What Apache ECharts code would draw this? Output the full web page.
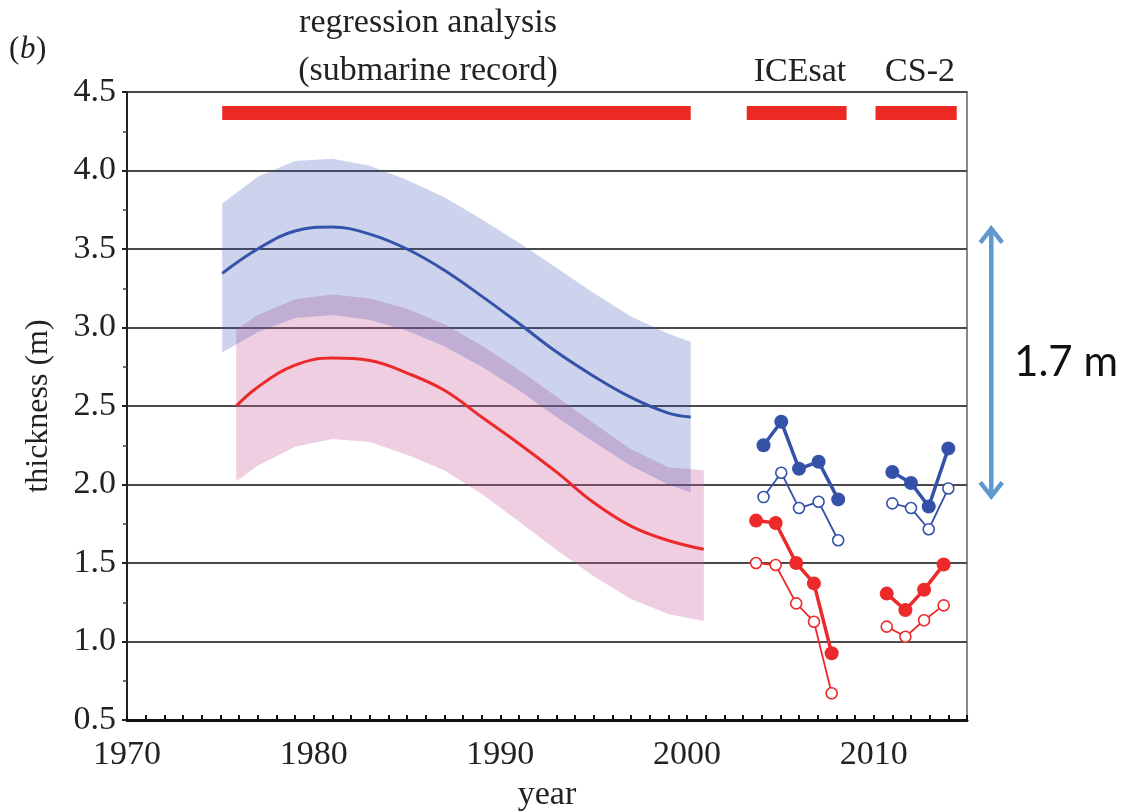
<!DOCTYPE html>
<html>
<head>
<meta charset="utf-8">
<script src="https://cdn.jsdelivr.net/npm/echarts@6/dist/echarts.min.js"></script>
<style>html,body{margin:0;padding:0;background:#fff;}#c{width:1134px;height:812px;}</style>
</head>
<body>
<div id="c"></div>
<script>
// ---- data ----
const xTicksMin = 1970, xTicksMax = 2015;
const yTicksMin = 0.5, yTicksMax = 4.5;

const blueYears  = [1975.1, 1977, 1979, 1981, 1983, 1985, 1987, 1989, 1991, 1993, 1995, 1997, 1999, 2000.2];
const blueMean   = [3.345, 3.50, 3.615, 3.64, 3.595, 3.50, 3.365, 3.20, 3.025, 2.845, 2.69, 2.555, 2.455, 2.43];
const blueUpper  = [3.79, 3.96, 4.06, 4.075, 4.03, 3.94, 3.83, 3.69, 3.54, 3.38, 3.22, 3.07, 2.96, 2.91];
const blueLower  = [2.84, 2.97, 3.06, 3.08, 3.05, 2.98, 2.88, 2.75, 2.60, 2.43, 2.27, 2.12, 2.00, 1.95];

const redYears   = [1975.85, 1977, 1979, 1981, 1983, 1985, 1987, 1989, 1991, 1993, 1995, 1997, 1999, 2000.9];
const redMean    = [2.50, 2.62, 2.76, 2.805, 2.79, 2.71, 2.60, 2.43, 2.26, 2.08, 1.885, 1.735, 1.643, 1.587];
const redUpper   = [2.985, 3.08, 3.18, 3.21, 3.185, 3.12, 3.02, 2.885, 2.73, 2.56, 2.39, 2.225, 2.11, 2.09];
const redLower   = [2.02, 2.12, 2.24, 2.29, 2.27, 2.19, 2.09, 1.94, 1.765, 1.585, 1.415, 1.27, 1.175, 1.13];

const icesatBlueYears = [2004.1, 2005.05, 2006.0, 2007.05, 2008.1];
const icesatBlueFill  = [2.25, 2.40, 2.10, 2.145, 1.905];
const icesatBlueOpen  = [1.92, 2.075, 1.85, 1.89, 1.645];
const icesatRedYears  = [2003.7, 2004.75, 2005.85, 2006.8, 2007.75];
const icesatRedFill   = [1.77, 1.755, 1.50, 1.37, 0.925];
const icesatRedOpen   = [1.50, 1.487, 1.243, 1.126, 0.67];

const cs2BlueYears = [2011.0, 2012.0, 2012.95, 2014.0];
const cs2BlueFill  = [2.08, 2.01, 1.86, 2.23];
const cs2BlueOpen  = [1.88, 1.85, 1.715, 1.975];
const cs2RedYears  = [2010.7, 2011.7, 2012.7, 2013.75];
const cs2RedFill   = [1.305, 1.20, 1.33, 1.49];
const cs2RedOpen   = [1.095, 1.03, 1.135, 1.23];

const periodBars = [
  {name: 'regression analysis', from: 1975.1, to: 2000.2},
  {name: 'ICEsat', from: 2003.2, to: 2008.55},
  {name: 'CS-2', from: 2010.1, to: 2014.45}
];
const periodBarLevel = 4.37;

const arrowYear = 2016.3, arrowTop = 3.63, arrowBottom = 1.925;
const arrowLabel = '1.7 m';

// ---- chart ----
const SERIF = '"Liberation Serif","Times New Roman",serif';
const BLUE = '#3452a8', RED = '#ec2a2c';
const zip = (xs, ys) => xs.map((x, i) => [x, ys[i]]);
const band = (xs, lo, up) => xs.map((x, i) => [x, lo[i], up[i]]);

function bandSeries(data, fill, z) {
  return {
    type: 'custom', z: z, data: data,
    encode: {x: 0, y: [1, 2]},
    renderItem: function (params, api) {
      if (params.dataIndex !== 0) return;
      const up = data.map(d => api.coord([d[0], d[2]]));
      const lo = data.map(d => api.coord([d[0], d[1]])).reverse();
      return {type: 'polygon', shape: {points: up.concat(lo)}, style: {fill: fill}, silent: true};
    }
  };
}
function ptSeries(xs, ys, color, filled) {
  return {
    type: 'line', data: zip(xs, ys), z: filled ? 6 : 5,
    symbol: 'circle', symbolSize: filled ? 14 : 11,
    lineStyle: {color: color, width: filled ? 3.5 : 1.8},
    itemStyle: filled ? {color: color} : {color: '#fff', borderColor: color, borderWidth: 1.6}
  };
}

const chart = echarts.init(document.getElementById('c'), null, {renderer: 'canvas'});
const option = {
  animation: false,
  backgroundColor: '#fff',
  grid: {left: 127, right: 167, top: 92, bottom: 92, show: true, borderColor: '#888', borderWidth: 2,
         backgroundColor: 'transparent', outerBoundsMode: 'none', containLabel: false},
  xAxis: {
    type: 'value', min: xTicksMin, max: xTicksMax, interval: 1,
    name: 'year', nameLocation: 'middle', nameGap: 58,
    nameTextStyle: {fontFamily: SERIF, fontSize: 34, color: '#222'},
    axisLine: {show: true, onZero: false, lineStyle: {color: '#111', width: 3}},
    axisTick: {show: true, inside: true, length: 5, lineStyle: {color: '#111', width: 2}},
    axisLabel: {fontFamily: SERIF, fontSize: 34, color: '#222', margin: 18,
      formatter: v => (Math.round(v) % 10 === 0 ? String(Math.round(v)) : '')},
    splitLine: {show: false}
  },
  yAxis: {
    type: 'value', min: yTicksMin, max: yTicksMax, interval: 0.5,
    name: 'thickness (m)', nameLocation: 'middle', nameGap: 72,
    nameTextStyle: {fontFamily: SERIF, fontSize: 32, color: '#222'},
    axisLine: {show: true, lineStyle: {color: '#222', width: 2}},
    axisTick: {show: true, inside: false, length: 5, lineStyle: {color: '#222', width: 2}},
    minorTick: {show: true, splitNumber: 2, length: 4, lineStyle: {color: '#444', width: 1.5}},
    axisLabel: {fontFamily: SERIF, fontSize: 34, color: '#222', margin: 11, formatter: v => v.toFixed(1)},
    splitLine: {show: true, lineStyle: {color: '#4a4a4a', width: 2}}
  },
  series: [
    bandSeries(band(redYears, redLower, redUpper), 'rgba(200,92,152,0.30)', 1),
    bandSeries(band(blueYears, blueLower, blueUpper), 'rgba(55,79,179,0.25)', 2),
    {type: 'line', data: zip(redYears, redMean), smooth: 0.4, symbol: 'none', z: 3,
     lineStyle: {color: RED, width: 3}},
    {type: 'line', data: zip(blueYears, blueMean), smooth: 0.4, symbol: 'none', z: 3,
     lineStyle: {color: BLUE, width: 3}},
    {type: 'lines', coordinateSystem: 'cartesian2d', z: 4,
     data: periodBars.map(b => ({coords: [[b.from, periodBarLevel], [b.to, periodBarLevel]]})),
     lineStyle: {color: '#ec2a24', width: 14, opacity: 1, cap: 'butt'}},
    ptSeries(icesatBlueYears, icesatBlueOpen, BLUE, false),
    ptSeries(icesatBlueYears, icesatBlueFill, BLUE, true),
    ptSeries(icesatRedYears, icesatRedOpen, RED, false),
    ptSeries(icesatRedYears, icesatRedFill, RED, true),
    ptSeries(cs2BlueYears, cs2BlueOpen, BLUE, false),
    ptSeries(cs2BlueYears, cs2BlueFill, BLUE, true),
    ptSeries(cs2RedYears, cs2RedOpen, RED, false),
    ptSeries(cs2RedYears, cs2RedFill, RED, true)
  ]
};
chart.setOption(option);

// annotations
const pTop = chart.convertToPixel({gridIndex: 0}, [arrowYear, arrowTop]);
const pBot = chart.convertToPixel({gridIndex: 0}, [arrowYear, arrowBottom]);
const AC = '#5f97cf';
const hw = 11, hl = 14;
chart.setOption({
  graphic: [
    {type: 'text', x: 428, y: 23, style: {text: 'regression analysis', font: '34px ' + SERIF, fill: '#222', textAlign: 'center', textVerticalAlign: 'middle'}},
    {type: 'text', x: 428, y: 71, style: {text: '(submarine record)', font: '34px ' + SERIF, fill: '#222', textAlign: 'center', textVerticalAlign: 'middle'}},
    {type: 'text', x: 800, y: 72, style: {text: 'ICEsat', font: '34px ' + SERIF, fill: '#222', textAlign: 'center', textVerticalAlign: 'middle'}},
    {type: 'text', x: 920, y: 72, style: {text: 'CS-2', font: '34px ' + SERIF, fill: '#222', textAlign: 'center', textVerticalAlign: 'middle'}},
    {type: 'text', x: 9, y: 50, style: {text: '(', font: '31px ' + SERIF, fill: '#222', textVerticalAlign: 'middle'}},
    {type: 'text', x: 20, y: 50, style: {text: 'b', font: 'italic 31px ' + SERIF, fill: '#222', textVerticalAlign: 'middle'}},
    {type: 'text', x: 36, y: 50, style: {text: ')', font: '31px ' + SERIF, fill: '#222', textVerticalAlign: 'middle'}},
    {type: 'line', shape: {x1: pTop[0], y1: pTop[1] + 1, x2: pBot[0], y2: pBot[1] - 1}, style: {stroke: AC, lineWidth: 4.5}},
    {type: 'polyline', shape: {points: [[pTop[0] - hw, pTop[1] + hl], [pTop[0], pTop[1]], [pTop[0] + hw, pTop[1] + hl]]}, style: {stroke: AC, lineWidth: 4.5, fill: null, lineJoin: 'miter'}},
    {type: 'polyline', shape: {points: [[pBot[0] - hw, pBot[1] - hl], [pBot[0], pBot[1]], [pBot[0] + hw, pBot[1] - hl]]}, style: {stroke: AC, lineWidth: 4.5, fill: null, lineJoin: 'miter'}},
    {type: 'text', x: 1066, y: (pTop[1] + pBot[1]) / 2, style: {text: arrowLabel, font: '42px Lato, "Open Sans", sans-serif', fill: '#111', textAlign: 'center', textVerticalAlign: 'middle'}}
  ]
});
</script>
</body>
</html>
